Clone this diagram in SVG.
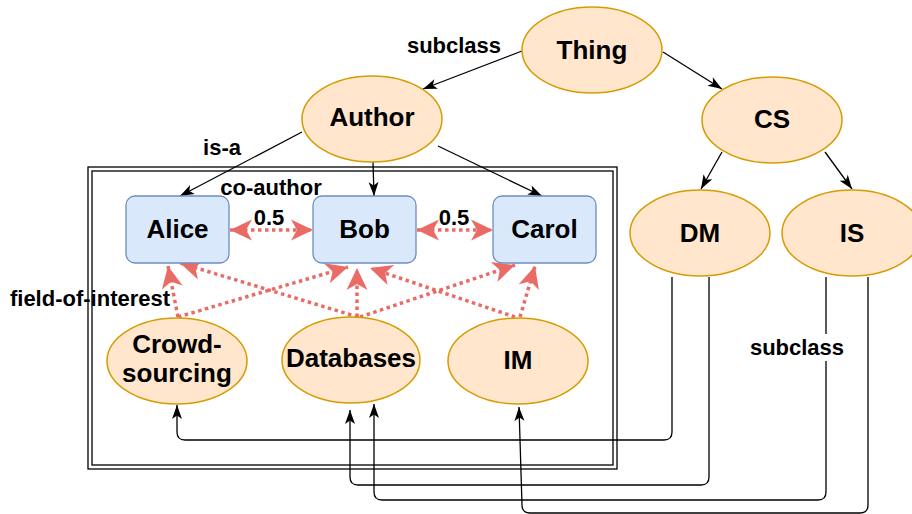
<svg xmlns="http://www.w3.org/2000/svg" width="912" height="514" viewBox="0 0 912 514">
<style>
.ell{fill:#ffe6cc;stroke:#d79b00;stroke-width:1.5}
.box{fill:#dae8fc;stroke:#6c8ebf;stroke-width:1.3}
.nt{font-family:"Liberation Sans",Arial,Helvetica,sans-serif;font-weight:bold;font-size:26px;text-anchor:middle;fill:#000}
.lb{font-family:"Liberation Sans",Arial,Helvetica,sans-serif;font-weight:bold;font-size:22px;text-anchor:middle;fill:#000}
.blk{fill:none;stroke:#000;stroke-width:1.3}
.red{fill:none;stroke:#ea6b66;stroke-width:3.5;stroke-dasharray:3.5 3.5}
.frame{fill:none;stroke:#000;stroke-width:1.3}
</style>
<defs>
<marker id="ab" markerUnits="userSpaceOnUse" markerWidth="14" markerHeight="10" refX="14" refY="5" orient="auto" overflow="visible">
<path d="M0,0 L14,5 L0,10 L3.5,5 z" fill="#000"/>
</marker>
<marker id="ar" markerUnits="userSpaceOnUse" markerWidth="22" markerHeight="21" refX="22" refY="10.5" orient="auto-start-reverse" overflow="visible">
<path d="M0,0 L22,10.5 L0,21 L6,10.5 z" fill="#ea6b66"/>
</marker>
</defs>
<rect width="912" height="514" fill="#fff"/>
<g id="frame">
<rect class="frame" x="88" y="167" width="529" height="302"/>
<rect class="frame" x="92" y="171" width="521" height="294"/>
</g>
<g id="connectors">
<path class="blk" d="M522,51 L423,89" marker-end="url(#ab)"/>
<path class="blk" d="M663,52 L722,89" marker-end="url(#ab)"/>
<path class="blk" d="M722,152 L701,189" marker-end="url(#ab)"/>
<path class="blk" d="M825,152 L852,189" marker-end="url(#ab)"/>
<path class="blk" d="M302,132 L180,196" marker-end="url(#ab)"/>
<path class="blk" d="M373,162 L374,196" marker-end="url(#ab)"/>
<path class="blk" d="M438,146 L542,196" marker-end="url(#ab)"/>
<path class="blk" d="M672,277 L672,432 Q672,440 664,440 L185,440 Q177,440 177,432 L177,405" marker-end="url(#ab)"/>
<path class="blk" d="M709,277 L709,477 Q709,485 701,485 L358,485 Q350,485 350,477 L350,410" marker-end="url(#ab)"/>
<path class="blk" d="M826,277 L826,492 Q826,500 818,500 L382,500 Q374,500 374,492 L374,404" marker-end="url(#ab)"/>
<path class="blk" d="M868,277 L868,505 Q868,513 860,513 L530,513 Q522,513 522,505 L519,407" marker-end="url(#ab)"/>
<path class="red" d="M178,317 L168,266" marker-end="url(#ar)"/>
<path class="red" d="M178,317 L348,267" marker-end="url(#ar)"/>
<path class="red" d="M358,317 L180,263" marker-end="url(#ar)"/>
<path class="red" d="M357,317 L357,268" marker-end="url(#ar)"/>
<path class="red" d="M360,317 L515,265" marker-end="url(#ar)"/>
<path class="red" d="M515,317 L370,268" marker-end="url(#ar)"/>
<path class="red" d="M520,317 L535,266" marker-end="url(#ar)"/>
<path class="red" d="M230,230 L313,230" marker-start="url(#ar)" marker-end="url(#ar)"/>
<path class="red" d="M417,230 L493,230" marker-start="url(#ar)" marker-end="url(#ar)"/>
</g>
<g id="node-thing"><ellipse class="ell" cx="592" cy="50" rx="70" ry="43"/><text class="nt" x="592" y="59">Thing</text></g>
<g id="node-author"><ellipse class="ell" cx="372" cy="119" rx="70" ry="43"/><text class="nt" x="372" y="126">Author</text></g>
<g id="node-cs"><ellipse class="ell" cx="772" cy="120" rx="70" ry="43"/><text class="nt" x="772" y="128">CS</text></g>
<g id="node-dm"><ellipse class="ell" cx="700" cy="233" rx="70" ry="43"/><text class="nt" x="700" y="242">DM</text></g>
<g id="node-is"><ellipse class="ell" cx="852" cy="233" rx="70" ry="43"/><text class="nt" x="852" y="242">IS</text></g>
<g id="node-alice"><rect class="box" x="126" y="196" width="103" height="67" rx="9"/><text class="nt" x="177.5" y="238">Alice</text></g>
<g id="node-bob"><rect class="box" x="313" y="196" width="103" height="67" rx="9"/><text class="nt" x="364.5" y="238">Bob</text></g>
<g id="node-carol"><rect class="box" x="493" y="196" width="103" height="67" rx="9"/><text class="nt" x="544.5" y="238">Carol</text></g>
<g id="node-crowdsourcing"><ellipse class="ell" cx="177" cy="361" rx="70" ry="43"/><text class="nt" x="177" y="353">Crowd-</text><text class="nt" x="177" y="382">sourcing</text></g>
<g id="node-databases"><ellipse class="ell" cx="351" cy="360" rx="69" ry="43"/><text class="nt" x="351" y="367">Databases</text></g>
<g id="node-im"><ellipse class="ell" cx="518" cy="361" rx="70" ry="43"/><text class="nt" x="518" y="369">IM</text></g>
<g id="labels">
<text class="lb" x="454" y="53">subclass</text>
<text class="lb" x="222" y="155">is-a</text>
<text class="lb" x="271" y="195">co-author</text>
<text class="lb" x="269" y="225">0.5</text>
<text class="lb" x="454" y="225">0.5</text>
<text class="lb" x="90" y="306">field-of-interest</text>
<rect x="749" y="334" width="96" height="27" fill="#fff"/>
<text class="lb" x="797" y="355">subclass</text>
</g>
</svg>
